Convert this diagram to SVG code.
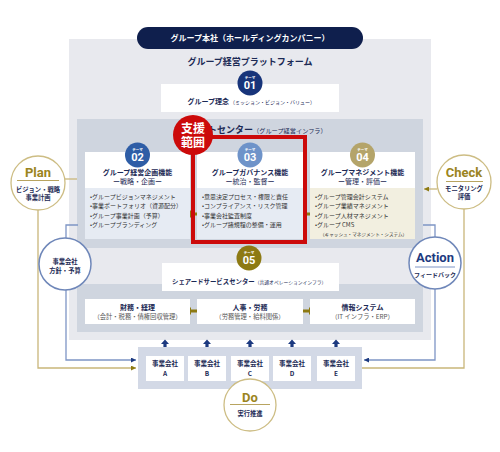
<svg xmlns="http://www.w3.org/2000/svg" width="500" height="452" viewBox="0 0 500 452">
<style>
.jp{font-family:"Noto Sans CJK JP","Noto Sans",sans-serif;}
.b{font-weight:700;}
.en{font-family:Roboto,"Liberation Sans",sans-serif;font-weight:700;}
.navy{fill:#1c2a55;}
.gray{fill:#333;}
.mid{text-anchor:middle;}
.wbox{fill:#fff;}
.lineG{fill:none;stroke:#c9b67a;stroke-width:1.3;}
.lineB{fill:none;stroke:#7e95c5;stroke-width:1.3;}
.cG{fill:#fff;stroke:#cdbd84;stroke-width:1.3;}
.cB{fill:#fff;stroke:#6f87b9;stroke-width:1.5;}
.gold{fill:#9b8420;}
.badge{fill:#fff;text-anchor:middle;}
</style>
<defs>
<polygon id="dblH" points="-7,0 -3,-4 -3,-1.6 3,-1.6 3,-4 7,0 3,4 3,1.6 -3,1.6 -3,4" fill="#8d7a13"/>
<polygon id="dblV" points="0,-8 -4,-3.5 -1.6,-3.5 -1.6,3.5 -4,3.5 0,8 4,3.5 1.6,3.5 1.6,-3.5 4,-3.5" fill="#1c3a80"/>
<marker id="aB" viewBox="0 0 10 10" refX="10" refY="5" markerWidth="5" markerHeight="5" orient="auto" markerUnits="userSpaceOnUse"><path d="M0,0 L10,5 L0,10 z" fill="#1c3a80"/></marker>
<marker id="aG" viewBox="0 0 10 10" refX="10" refY="5" markerWidth="5" markerHeight="5" orient="auto" markerUnits="userSpaceOnUse"><path d="M0,0 L10,5 L0,10 z" fill="#8d7a13"/></marker>
</defs>
<rect width="500" height="452" fill="#fff"/>

<!-- panels -->
<g id="outer-panel">
<rect x="69" y="39" width="362" height="301" fill="#e8e9ee"/>
<rect x="77" y="119" width="346" height="129" fill="#cfd5df"/>
<rect x="77" y="284" width="346" height="48" fill="#cfd5df"/>
</g>

<g id="connectors">
<polyline class="lineG" points="65,179 77,179"/>
<polyline class="lineG" points="38,210 38,368 136,368" marker-end="url(#aG)"/>
<polyline class="lineG" points="437,189 424,189" marker-end="url(#aG)"/>
<polyline class="lineG" points="464,209 464,368 362,368"/>
<polyline class="lineB" points="78,225 66,225 66,238"/>
<polyline class="lineB" points="66,290 66,360 136,360" marker-end="url(#aB)"/>
<polyline class="lineB" points="423,225 435,225 435,237"/>
<polyline class="lineB" points="435,289 435,360 364,360" marker-end="url(#aB)"/>
<use href="#dblH" x="194" y="214"/>
<use href="#dblH" x="307" y="214"/>
<use href="#dblH" x="194" y="311"/>
<use href="#dblH" x="306" y="311"/>
<use href="#dblV" x="165" y="347.5"/>
<use href="#dblV" x="207" y="347.5"/>
<use href="#dblV" x="250" y="347.5"/>
<use href="#dblV" x="292" y="347.5"/>
<use href="#dblV" x="336" y="347.5"/>
</g>

<g id="hq">
<rect x="137" y="27" width="226" height="22" rx="11" fill="#0f1f4d"/>
<text x="250" y="41" class="jp b mid" font-size="8" fill="#fff">グループ本社（ホールディングカンパニー）</text>
</g>
<g id="platform">
<text x="250" y="65" class="jp b mid navy" font-size="9">グループ経営プラットフォーム</text>
</g>

<g id="theme01">
<rect x="161" y="84" width="178" height="28" class="wbox"/>
<circle cx="250" cy="83" r="12.5" fill="#17347a"/>
<text x="250" y="78.5" class="jp b badge" font-size="3.5">テーマ</text>
<text x="250" y="89" class="en badge" font-size="11">01</text>
<text x="229" y="104" class="jp b navy" font-size="7" text-anchor="end">グループ理念</text>
<text x="230" y="104" class="jp navy" font-size="5">（ミッション・ビジョン・バリュー）</text>
</g>

<g id="support-title">
<text x="181" y="133" class="jp navy" font-size="9"><tspan class="b">サポートセンター</tspan><tspan font-size="6.2">（グループ経営インフラ）</tspan></text>
</g>

<g id="theme02">
<rect x="85" y="152" width="105" height="36" class="wbox"/>
<rect x="85" y="188" width="105" height="51" fill="#e6ebf3"/>
<circle cx="137.5" cy="155" r="12.5" fill="#2e5da6"/>
<text x="137.5" y="150.5" class="jp b badge" font-size="3.5">テーマ</text>
<text x="137.5" y="161" class="en badge" font-size="11">02</text>
<text x="137.5" y="175" class="jp b mid navy" font-size="7">グループ経営企画機能</text>
<text x="137.5" y="184" class="jp mid navy" font-size="7">ー戦略・企画ー</text>
<text class="jp gray" font-size="6">
<tspan x="90" y="198.5">•グループビジョンマネジメント</tspan>
<tspan x="90" y="208">•事業ポートフォリオ（資源配分）</tspan>
<tspan x="90" y="217.5">•グループ事業計画（予算）</tspan>
<tspan x="90" y="227">•グループブランディング</tspan>
</text>
</g>

<g id="theme03">
<rect x="197" y="152" width="106" height="36" class="wbox"/>
<rect x="197" y="188" width="106" height="51" fill="#e6ebf3"/>
<circle cx="250" cy="155" r="12.5" fill="#6e93c9"/>
<text x="250" y="150.5" class="jp b badge" font-size="3.5">テーマ</text>
<text x="250" y="161" class="en badge" font-size="11">03</text>
<text x="250" y="175" class="jp b mid navy" font-size="7">グループガバナンス機能</text>
<text x="250" y="184" class="jp mid navy" font-size="7">ー統治・監督ー</text>
<text class="jp gray" font-size="6">
<tspan x="202" y="198.5">•意思決定プロセス・権限と責任</tspan>
<tspan x="202" y="208">•コンプライアンス・リスク管理</tspan>
<tspan x="202" y="217.5">•事業会社監査制度</tspan>
<tspan x="202" y="227">•グループ諸規程の整備・運用</tspan>
</text>
</g>

<g id="theme04">
<rect x="310" y="152" width="105" height="36" class="wbox"/>
<rect x="310" y="188" width="105" height="51" fill="#f2efe0"/>
<circle cx="362.5" cy="155" r="12.5" fill="#b4a46a"/>
<text x="362.5" y="150.5" class="jp b badge" font-size="3.5">テーマ</text>
<text x="362.5" y="161" class="en badge" font-size="11">04</text>
<text x="362.5" y="175" class="jp b mid navy" font-size="7">グループマネジメント機能</text>
<text x="362.5" y="184" class="jp mid navy" font-size="7">ー管理・評価ー</text>
<text class="jp gray" font-size="6">
<tspan x="315" y="198.5">•グループ管理会計システム</tspan>
<tspan x="315" y="208">•グループ業績マネジメント</tspan>
<tspan x="315" y="217.5">•グループ人材マネジメント</tspan>
<tspan x="315" y="227">•グループ CMS</tspan>
</text>
<text x="320" y="236" class="jp gray" font-size="4.6">（キャッシュ・マネジメント・システム）</text>
</g>

<g id="support-scope">
<rect x="193" y="137" width="112" height="105" fill="none" stroke="#cc0a0a" stroke-width="4"/>
<circle cx="193" cy="135" r="20" fill="#cc0a0a"/>
<text x="193" y="133" class="jp b mid" font-size="12" fill="#fff">支援</text>
<text x="193" y="147" class="jp b mid" font-size="12" fill="#fff">範囲</text>
</g>

<g id="theme05">
<rect x="162" y="263" width="177" height="28" class="wbox"/>
<circle cx="249" cy="258" r="12.5" fill="#8d7a13"/>
<text x="249" y="253.5" class="jp b badge" font-size="3.5">テーマ</text>
<text x="249" y="264" class="en badge" font-size="11">05</text>
<text x="172" y="284" class="jp navy" font-size="6.4"><tspan class="b">シェアードサービスセンター</tspan><tspan font-size="4.8">（共通オペレーションインフラ）</tspan></text>
</g>

<g id="shared-finance">
<rect x="85" y="299" width="105" height="25" class="wbox"/>
<text x="137.5" y="309.5" class="jp b mid navy" font-size="7">財務・経理</text>
<text x="137.5" y="319" class="jp mid" font-size="6.3" fill="#555">（会計・税務・債権回収管理）</text>
</g>
<g id="shared-hr">
<rect x="197" y="299" width="106" height="25" class="wbox"/>
<text x="250" y="309.5" class="jp b mid navy" font-size="7">人事・労務</text>
<text x="250" y="319" class="jp mid" font-size="6.3" fill="#555">（労務管理・給料関係）</text>
</g>
<g id="shared-it">
<rect x="310" y="299" width="105" height="25" class="wbox"/>
<text x="362.5" y="309.5" class="jp b mid navy" font-size="7">情報システム</text>
<text x="362.5" y="319" class="jp mid" font-size="6.3" fill="#555">（IT インフラ・ERP）</text>
</g>

<g id="companies">
<rect x="138" y="347" width="224" height="42" fill="#d3d9e6"/>
<rect x="146" y="356" width="38" height="25" class="wbox"/>
<rect x="188" y="356" width="38" height="25" class="wbox"/>
<rect x="231" y="356" width="38" height="25" class="wbox"/>
<rect x="273" y="356" width="38" height="25" class="wbox"/>
<rect x="317" y="356" width="38" height="25" class="wbox"/>
<g class="jp b navy" font-size="6.5" text-anchor="middle">
<text x="165" y="366">事業会社</text><text x="165" y="376">A</text>
<text x="207" y="366">事業会社</text><text x="207" y="376">B</text>
<text x="250" y="366">事業会社</text><text x="250" y="376">C</text>
<text x="292" y="366">事業会社</text><text x="292" y="376">D</text>
<text x="336" y="366">事業会社</text><text x="336" y="376">E</text>
</g>
</g>

<g id="plan">
<circle cx="38" cy="183" r="27" class="cG"/>
<text x="38" y="177" class="en mid gold" font-size="13">Plan</text>
<line x1="17" y1="180.5" x2="59" y2="180.5" stroke="#b8a460" stroke-width="1"/>
<text x="38" y="192" class="jp b mid navy" font-size="6.3">ビジョン・戦略</text>
<text x="38" y="200" class="jp b mid navy" font-size="6.3">事業計画</text>
</g>

<g id="check">
<circle cx="464" cy="182" r="27" class="cG"/>
<text x="464" y="177" class="en mid gold" font-size="13">Check</text>
<line x1="446" y1="181.5" x2="483" y2="181.5" stroke="#b8a460" stroke-width="1"/>
<text x="464" y="191" class="jp b mid navy" font-size="6.3">モニタリング</text>
<text x="464" y="199" class="jp b mid navy" font-size="6.3">評価</text>
</g>

<g id="policy">
<circle cx="65" cy="264" r="26" class="cB"/>
<text x="65" y="264" class="jp b mid navy" font-size="6.3">事業会社</text>
<text x="65" y="273" class="jp b mid navy" font-size="6.3">方針・予算</text>
</g>

<g id="action">
<circle cx="435" cy="263" r="26" class="cB"/>
<text x="435" y="262" class="en mid" font-size="13" fill="#1c3a80">Action</text>
<line x1="415" y1="267" x2="455" y2="267" stroke="#7e95c5" stroke-width="1"/>
<text x="435" y="277" class="jp b mid navy" font-size="6">フィードバック</text>
</g>

<g id="do">
<circle cx="250" cy="405" r="26" class="cG"/>
<text x="250" y="402" class="en mid gold" font-size="13">Do</text>
<line x1="230" y1="404.5" x2="270" y2="404.5" stroke="#b8a460" stroke-width="1"/>
<text x="250" y="416" class="jp b mid navy" font-size="6.3">実行推進</text>
</g>
</svg>
